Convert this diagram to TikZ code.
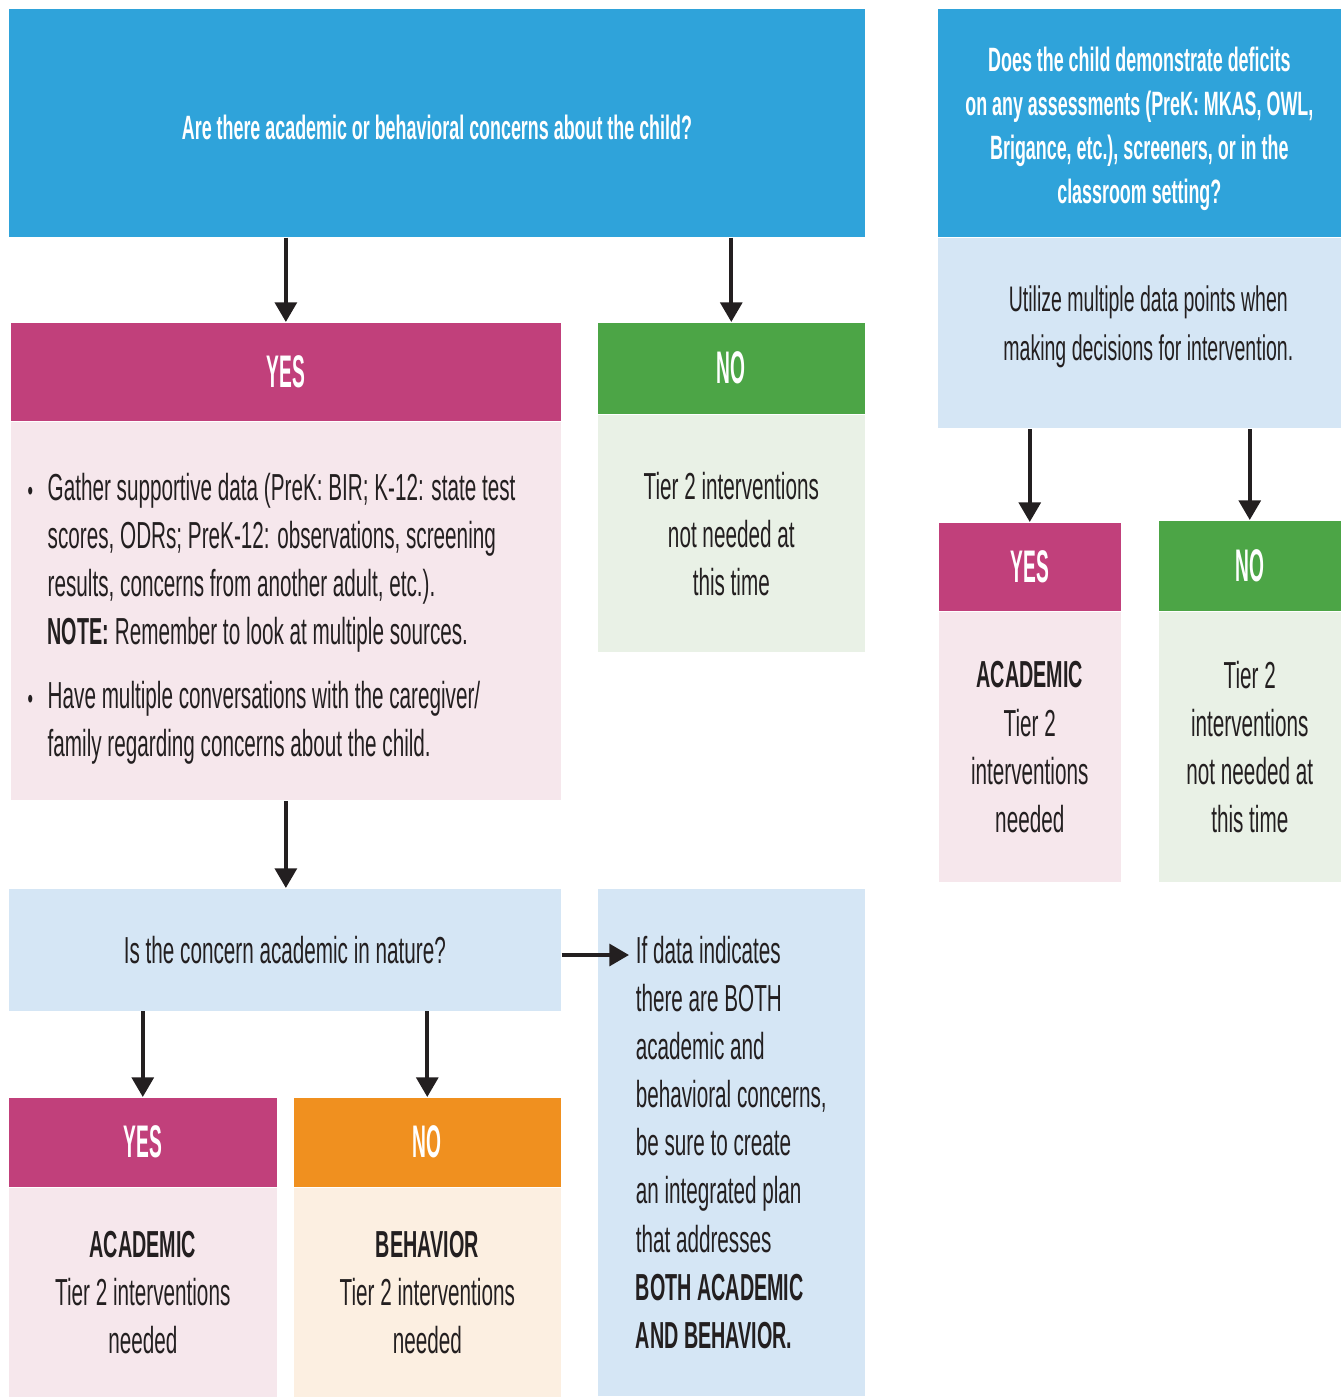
\documentclass[tikz,border=0pt]{standalone}
\usepackage{fontspec}
\setmainfont[FakeStretch=0.55]{Liberation Sans}
\newfontfamily\hdfamily[FakeStretch=0.42]{Liberation Sans}
\newfontfamily\qfamily[FakeStretch=0.53]{Liberation Sans}
\newfontfamily\bdfamily[FakeStretch=0.525]{Liberation Sans}
\usetikzlibrary{positioning,arrows.meta}

\definecolor{qblue}{HTML}{2FA3DA}
\definecolor{yesmag}{HTML}{C1407B}
\definecolor{nogreen}{HTML}{4CA546}
\definecolor{behorange}{HTML}{F0901F}
\definecolor{yespink}{HTML}{F6E7EC}
\definecolor{nolight}{HTML}{E9F1E6}
\definecolor{behlight}{HTML}{FCEFE1}
\definecolor{askblue}{HTML}{D5E6F5}
\definecolor{ink}{HTML}{231F20}

\newcommand{\qfont}{\qfamily\bfseries\fontsize{9.6}{12.5}\selectfont}
\newcommand{\hdfont}{\hdfamily\bfseries\fontsize{13}{15}\selectfont}
\newcommand{\bodyfont}{\fontsize{10.7}{13.7}\selectfont}
\newcommand{\bd}[1]{{\bdfamily\bfseries #1}}
\newcommand{\bul}{\leavevmode\llap{{\fontsize{8}{8}\selectfont\textbullet}\hspace{4.2pt}}}

\begin{document}
\begin{tikzpicture}[x=0.01cm, y=-0.01cm]
            \tikzstyle{question} = [rectangle, minimum height=2.28cm, inner sep=0pt, align=center, fill=qblue, text=white, font=\qfont]
            \tikzstyle{yeshead} = [rectangle, inner sep=0pt, fill=yesmag, text=white, font=\hdfont]
            \tikzstyle{nohead} = [yeshead, fill=nogreen]
            \tikzstyle{behhead} = [yeshead, fill=behorange]
            \tikzstyle{body} = [rectangle, inner sep=0pt, align=center, text=ink, font=\bodyfont]
            \tikzstyle{arrow} = [line width=1.1pt, draw=ink, -{Triangle[width=6.2pt,length=5.6pt]}]

            \useasboundingbox (0,0) rectangle (1342,1397);

            % Left column
            \node (q1) [question, anchor=north west, minimum width=8.56cm, text height=0.33cm] at (8,8) {Are there academic or behavioral concerns about the child?};
            \node (yes1) [yeshead, anchor=north west, minimum width=5.5cm, minimum height=0.98cm] at (10,322) {YES};
            \node (yes1body) [body, below=0pt of yes1, fill=yespink, minimum width=5.5cm, minimum height=3.78cm, text width=5.0cm, text height=0.42cm, align=flush left]
                {\leftskip=0.12cm
                 \bul Gather supportive data (PreK: BIR; K-12: state test\\
                 scores, ODRs; PreK-12: observations, screening\\
                 results, concerns from another adult, etc.).\\
                 \bd{NOTE:} Remember to look at multiple sources.\\[4.3pt]
                 \bul Have multiple conversations with the caregiver/\\
                 family regarding concerns about the child.\par};
            \node (no1) [nohead, anchor=north west, minimum width=2.67cm, minimum height=0.91cm] at (597,322) {NO};
            \node (no1body) [body, below=0pt of no1, fill=nolight, minimum width=2.67cm, minimum height=2.37cm]
                {Tier 2 interventions\\not needed at\\this time};

            % Academic or behavior
            \node (q2) [body, anchor=north west, fill=askblue, minimum width=5.52cm, minimum height=1.22cm] at (8,888) {Is the concern academic in nature?};
            \node (yes3) [yeshead, anchor=north west, minimum width=2.68cm, minimum height=0.89cm] at (8,1097) {YES};
            \node (yes3body) [body, below=0pt of yes3, fill=yespink, minimum width=2.68cm, minimum height=2.09cm]
                {\bd{ACADEMIC}\\Tier 2 interventions\\needed};
            \node (beh3) [behhead, anchor=north west, minimum width=2.67cm, minimum height=0.89cm] at (293,1097) {NO};
            \node (beh3body) [body, below=0pt of beh3, fill=behlight, minimum width=2.67cm, minimum height=2.09cm]
                {\bd{BEHAVIOR}\\Tier 2 interventions\\needed};
            \node (both) [body, anchor=north west, fill=askblue, minimum width=2.67cm, minimum height=5.07cm, align=flush left] at (597,888)
                {If data indicates\\there are BOTH\\academic and\\behavioral concerns,\\be sure to create\\an integrated plan\\that addresses\\\bd{BOTH ACADEMIC}\\\bd{AND BEHAVIOR.}};
            \coordinate (bothin) at (629,955);

            % Right column
            \node (q4) [question, anchor=north west, minimum width=4.03cm] at (937,8)
                {\rule{0pt}{0.37cm}Does the child demonstrate deficits\\on any assessments (PreK: MKAS, OWL,\\Brigance, etc.), screeners, or in the\\classroom setting?};
            \node (util) [body, below=0pt of q4, fill=askblue, minimum width=4.03cm, minimum height=1.9cm, text depth=0.21cm, font=\fontsize{10.1}{13.9}\selectfont]
                {\hspace*{0.18cm}Utilize multiple data points when\\\hspace*{0.18cm}making decisions for intervention.};
            \node (yes2) [yeshead, anchor=north west, minimum width=1.82cm, minimum height=0.88cm] at (938,522) {YES};
            \node (yes2body) [body, below=0pt of yes2, fill=yespink, minimum width=1.82cm, minimum height=2.7cm]
                {\bd{ACADEMIC}\\Tier 2\\interventions\\needed};
            \node (no2) [nohead, anchor=north west, minimum width=1.82cm, minimum height=0.9cm] at (1158,520) {NO};
            \node (no2body) [body, below=0pt of no2, fill=nolight, minimum width=1.82cm, minimum height=2.7cm]
                {Tier 2\\interventions\\not needed at\\this time};

            % Arrows
            \draw [arrow] (q1.south -| yes1.north) -- (yes1.north);
            \draw [arrow] (q1.south -| no1.north) -- (no1.north);
            \draw [arrow] (yes1body) -- (q2.north -| yes1body.south);
            \draw [arrow] (q2.south -| yes3.north) -- (yes3.north);
            \draw [arrow] (q2.south -| beh3.north) -- (beh3.north);
            \draw [arrow] (q2.east |- bothin) -- (bothin);
            \draw [arrow] (util.south -| yes2.north) -- (yes2.north);
            \draw [arrow] (util.south -| no2.north) -- (no2.north);
        \end{tikzpicture}
\end{document}
